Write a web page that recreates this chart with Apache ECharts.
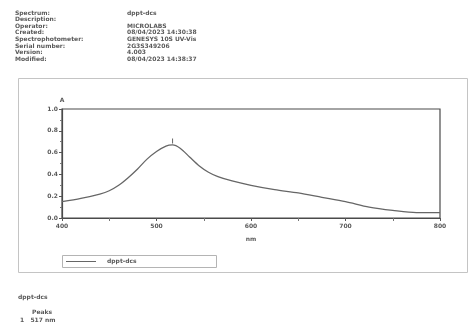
<!DOCTYPE html>
<html>
<head>
<meta charset="utf-8">
<script src="https://cdn.jsdelivr.net/npm/echarts@6/dist/echarts.min.js"></script>
<style>
  html, body { margin: 0; padding: 0; background: #fff; }
  #chart { width: 469px; height: 330px; }
</style>
</head>
<body>
<div id="chart"></div>
<script>
// Absorbance spectrum of sample dppt-dcs
const wavelengths = [400, 420, 440, 450, 460, 470, 480, 490, 500, 510, 517, 525, 535, 545, 555, 565, 580, 600, 625, 650, 675, 700, 725, 750, 775, 800];
const absorbance  = [0.15, 0.18, 0.22, 0.25, 0.30, 0.37, 0.45, 0.54, 0.61, 0.66, 0.67, 0.64, 0.56, 0.48, 0.42, 0.38, 0.34, 0.30, 0.26, 0.23, 0.19, 0.15, 0.10, 0.07, 0.05, 0.05];
const peakWavelength = 517;
const peakAbsorbance = 0.67;
const seriesName = 'dppt-dcs';

const headerLabels = ['Spectrum:', 'Description:', 'Operator:', 'Created:', 'Spectrophotometer:', 'Serial number:', 'Version:', 'Modified:'];
const headerValues = ['dppt-dcs', '', 'MICROLABS', '08/04/2023 14:30:38', 'GENESYS 10S UV-Vis', '2G3S349206', '4.003', '08/04/2023 14:38:37'];

const ink = '#5a5a5a';
const font = 'DejaVu Sans';

const chart = echarts.init(document.getElementById('chart'), null, { renderer: 'canvas' });

const graphics = [];
headerLabels.forEach((t, i) => {
  graphics.push({ type: 'text', left: 15, top: 10 + i * 6.6,
    style: { text: t, font: 'bold 6px ' + font, fill: ink } });
  graphics.push({ type: 'text', left: 127, top: 10 + i * 6.6,
    style: { text: headerValues[i], font: 'bold 6px ' + font, fill: ink } });
});
// outer chart frame
graphics.push({ type: 'rect', shape: { x: 18.5, y: 78.5, width: 449, height: 194 },
  style: { fill: 'none', stroke: '#c4c4c4', lineWidth: 1 } });
// legend box
graphics.push({ type: 'rect', shape: { x: 62.5, y: 255.5, width: 154, height: 12 },
  style: { fill: 'none', stroke: '#b4b4b4', lineWidth: 1 } });
graphics.push({ type: 'line', shape: { x1: 66, y1: 261.5, x2: 96, y2: 261.5 },
  style: { stroke: '#666', lineWidth: 1 } });
graphics.push({ type: 'text', left: 107, top: 258,
  style: { text: seriesName, font: 'bold 6px ' + font, fill: ink } });
// peak table below the chart
graphics.push({ type: 'text', left: 18, top: 294,
  style: { text: seriesName, font: 'bold 6px ' + font, fill: ink } });
graphics.push({ type: 'text', left: 32, top: 309,
  style: { text: 'Peaks', font: 'bold 6px ' + font, fill: ink } });
graphics.push({ type: 'text', left: 20, top: 317,
  style: { text: '1   ' + peakWavelength + ' nm', font: 'bold 6px ' + font, fill: ink } });

chart.setOption({
  animation: false,
  backgroundColor: '#fff',
  grid: { left: 62, right: 29, top: 109, bottom: 112, show: true, borderColor: '#4a4a4a', borderWidth: 1.2 },
  xAxis: {
    type: 'value', min: 400, max: 800, interval: 100,
    name: 'nm', nameLocation: 'middle', nameGap: 18,
    nameTextStyle: { fontSize: 6, color: ink, fontFamily: font, fontWeight: 'bold' },
    axisLine: { lineStyle: { color: '#4a4a4a', width: 1.2 } },
    axisTick: { show: true, length: 3, lineStyle: { color: '#555' } },
    minorTick: { show: true, splitNumber: 2, length: 3, lineStyle: { color: '#777' } },
    splitLine: { show: false },
    axisLabel: { fontSize: 6, color: ink, fontFamily: font, fontWeight: 'bold', margin: 5 }
  },
  yAxis: {
    type: 'value', min: 0, max: 1, interval: 0.2,
    name: 'A', nameGap: 6,
    nameTextStyle: { fontSize: 6, color: ink, fontFamily: font, fontWeight: 'bold', align: 'center' },
    axisLine: { show: true, lineStyle: { color: '#4a4a4a', width: 1.2 } },
    axisTick: { show: true, length: 3, lineStyle: { color: '#555' } },
    minorTick: { show: true, splitNumber: 2, length: 2, lineStyle: { color: '#777' } },
    splitLine: { show: false },
    axisLabel: { fontSize: 6, color: ink, fontFamily: font, fontWeight: 'bold', margin: 4,
      formatter: v => v.toFixed(1) }
  },
  series: [{
    name: seriesName,
    type: 'line',
    smooth: 0.3,
    showSymbol: false,
    data: wavelengths.map((w, i) => [w, absorbance[i]]),
    lineStyle: { color: '#666', width: 1.3 },
    markPoint: {
      symbol: 'rect', symbolSize: [1, 5], symbolOffset: [0, -4],
      itemStyle: { color: '#666' }, label: { show: false },
      data: [{ coord: [peakWavelength, peakAbsorbance] }]
    }
  }],
  graphic: graphics
});
</script>
</body>
</html>
